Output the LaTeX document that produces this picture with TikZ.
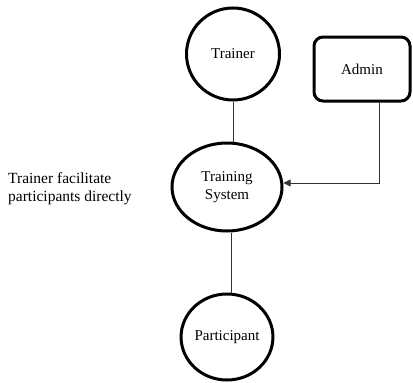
\documentclass[tikz,border=0pt]{standalone}
\usepackage{fontspec}
\setmainfont{Liberation Serif}
\usetikzlibrary{shapes.geometric,arrows.meta}
\begin{document}
\begin{tikzpicture}[x=1pt,y=-1pt,
  bubble/.style={draw,line width=3pt,ellipse,inner sep=0pt,font=\fontsize{15}{18}\selectfont,align=center},
  adminbox/.style={draw,line width=3pt,rounded corners=9pt,inner sep=0pt,font=\fontsize{15}{18}\selectfont},
  link/.style={line width=0.9pt,draw=black!80},
  note/.style={font=\fontsize{15.5}{18}\selectfont,align=left,anchor=west,inner sep=0pt}]
\useasboundingbox (0,0) rectangle (413,383);
\node[bubble,minimum width=93pt,minimum height=92pt] (trainer) at (233,54) {Trainer};
\node[adminbox,minimum width=96pt,minimum height=64pt] (admin) at (362,69) {Admin};
\node[bubble,minimum width=110pt,minimum height=88pt] (system) at (227,187) {Training\\System};
\node[bubble,minimum width=84pt,minimum height=86pt] (part) at (227,337) {Participant};
\node[note] (txt) at (8,189) {Trainer facilitate\\participants directly};
\coordinate (corner) at (379,183);
\draw[link] (trainer.south) -- (trainer.south |- system.north);
\draw[link] (system.south -| 231,0) -- (231,0 |- part.north);
\draw[link,-{Triangle[length=7pt,width=7pt]}] (admin.south -| corner) -- (corner) -- (system.east |- corner);
\end{tikzpicture}
\end{document}
